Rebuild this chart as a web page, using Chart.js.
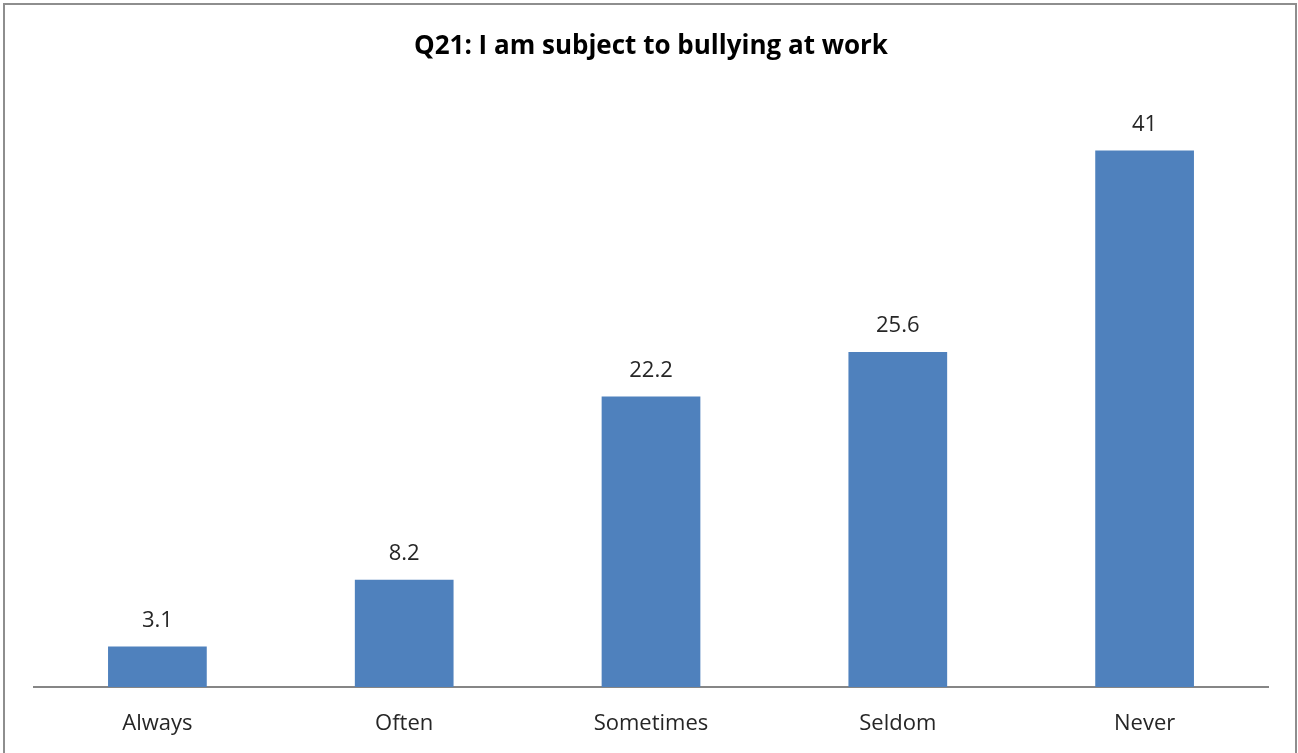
<!DOCTYPE html>
<html lang="en">
<head>
    <meta charset="UTF-8">
    <title>Q21: I am subject to bullying at work</title>
    <script src="https://cdn.jsdelivr.net/npm/chart.js"></script>
    <style>
        body { margin: 0; background: #fff; }
        #wrap { position: relative; width: 1298px; height: 753px; overflow: hidden; }
        #frame { position: absolute; left: 3px; top: 3px; width: 1290px; height: 760px; border: 2px solid #8e8e8e; pointer-events: none; }
    </style>
</head>
<body>
    <div id="wrap">
        <canvas id="bullyChart" width="1298" height="753"></canvas>
        <div id="frame"></div>
    </div>

    <script>
        // Respuestas y porcentajes
        const categories = ['Always', 'Often', 'Sometimes', 'Seldom', 'Never'];
        const percentages = [3.1, 8.2, 22.2, 25.6, 41];
        const chartTitle = 'Q21: I am subject to bullying at work';

        const fontFamily = "'Open Sans', 'Noto Sans', sans-serif";

        // Etiquetas de valor encima de cada barra
        const valueLabels = {
            id: 'valueLabels',
            afterDatasetsDraw(chart) {
                const ctx = chart.ctx;
                const meta = chart.getDatasetMeta(0);
                ctx.save();
                ctx.font = '22px ' + fontFamily;
                ctx.fillStyle = '#262626';
                ctx.textAlign = 'center';
                ctx.textBaseline = 'middle';
                meta.data.forEach((bar, i) => {
                    ctx.fillText(String(percentages[i]), bar.x, bar.y - 26);
                });
                ctx.restore();
            }
        };

        new Chart(document.getElementById('bullyChart'), {
            type: 'bar',
            data: {
                labels: categories,
                datasets: [{
                    data: percentages,
                    backgroundColor: '#4f81bd',
                    borderWidth: 0,
                    categoryPercentage: 0.4,
                    barPercentage: 1
                }]
            },
            options: {
                responsive: false,
                animation: false,
                layout: { padding: { left: 34, right: 30, top: 0, bottom: 0 } },
                plugins: {
                    legend: { display: false },
                    tooltip: { enabled: false },
                    title: {
                        display: true,
                        text: chartTitle,
                        color: '#000',
                        font: { family: fontFamily, size: 26, weight: 'bold' },
                        padding: { top: 31, bottom: 36 }
                    }
                },
                scales: {
                    x: {
                        grid: { display: false, drawTicks: false },
                        border: { color: '#868686', width: 2 },
                        ticks: {
                            color: '#262626',
                            padding: 24,
                            font: { family: fontFamily, size: 22 }
                        },
                        // altura fija del eje para dejar la base en su sitio
                        afterFit(scale) {
                            scale.height = 66;
                        }
                    },
                    y: {
                        display: false,
                        min: 0,
                        max: 45
                    }
                }
            },
            plugins: [valueLabels]
        });
    </script>
</body>
</html>
